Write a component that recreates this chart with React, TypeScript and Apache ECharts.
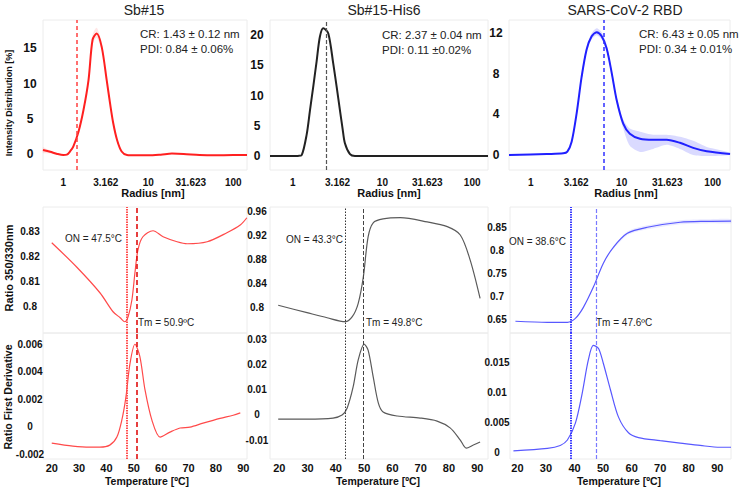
import { useEffect, useRef } from 'react';
import * as echarts from 'echarts';

const FONT = '"Liberation Sans", Arial, Helvetica, sans-serif';

// ---------- Titles / annotations ----------
const panelTitles = ['Sb#15', 'Sb#15-His6', 'SARS-CoV-2 RBD'];
const crTexts = ['CR: 1.43 ± 0.12 nm', 'CR: 2.37 ± 0.04 nm', 'CR: 6.43 ± 0.05 nm'];
const pdiTexts = ['PDI: 0.84 ± 0.06%', 'PDI: 0.11 ±0.02%', 'PDI: 0.34 ± 0.01%'];
const crValues = [1.43, 2.37, 6.43];
const onValues = [47.5, 43.3, 38.6];
const tmValues = [50.9, 49.8, 47.6];
const onTexts = ['ON = 47.5°C', 'ON = 43.3°C', 'ON = 38.6°C'];
const tmTexts = ['Tm = 50.9ºC', 'Tm = 49.8°C', 'Tm = 47.6ºC'];

// ---------- Tick labels ----------
const tempTicks = [20, 30, 40, 50, 60, 70, 80, 90];
const sb15DlsTicks = [0, 5, 10, 15];
const his6DlsTicks = [0, 5, 10, 15, 20];
const rbdDlsTicks = [0, 4, 8, 12];
const sb15RatioTicks = [0.8, 0.81, 0.82, 0.83];
const his6RatioTicks = [0.8, 0.84, 0.88, 0.92, 0.96];
const rbdRatioTicks = [0.65, 0.7, 0.75, 0.8, 0.85];
const sb15DerivTicks = [-0.002, 0, 0.002, 0.004, 0.006];
const his6DerivTicks = [-0.01, 0, 0.01, 0.02, 0.03];
const rbdDerivTicks = [0, 0.005, 0.01, 0.015];

// ---------- DLS (radius nm, intensity %) ----------
const sb15Radius = [0.577, 0.7, 0.85, 1.0, 1.1, 1.2, 1.31, 1.51, 1.73, 1.98, 2.21, 2.47, 2.83, 3.24, 3.55, 3.87, 4.3, 4.86, 5.62, 7, 10, 14, 19, 26, 40, 60, 100, 145];
const sb15Intensity = [0.6, 0.35, 0.05, -0.1, -0.05, 0.4, 1.1, 3.2, 6.3, 10.5, 16.2, 17.1, 15.2, 10.5, 7.2, 4.4, 2.0, 0.4, -0.1, -0.15, -0.15, -0.05, 0.1, 0.05, -0.1, -0.15, -0.1, -0.1];
const sb15BandRadius = [1.51, 1.73, 1.98, 2.21, 2.47, 2.83, 3.24, 3.55, 3.87];
const sb15BandLow = [2.9, 6.0, 10.1, 15.6, 16.5, 14.7, 10.1, 6.9, 4.2];
const sb15BandHigh = [3.5, 6.6, 10.9, 16.9, 17.9, 15.8, 10.9, 7.5, 4.6];
const sb15StartBandRadius = [0.577, 0.65, 0.75, 0.85];
const sb15StartBandLow = [0.2, 0.15, 0.05, -0.05];
const sb15StartBandHigh = [1.0, 0.7, 0.4, 0.15];

const his6Radius = [0.559, 1.0, 1.15, 1.26, 1.43, 1.56, 1.7, 1.85, 2.01, 2.19, 2.49, 2.83, 3.1, 3.36, 3.6, 3.82, 4.35, 4.94, 10, 30, 100, 150];
const his6Intensity = [0, 0, 0.02, 0.15, 3.5, 7.6, 11.6, 15.7, 19.7, 21.1, 20.3, 15.3, 11.3, 7.6, 4.5, 2.1, 0.3, 0, 0, 0, 0, 0];

const rbdRadius = [0.578, 1.5, 2.28, 2.53, 2.82, 3.2, 3.63, 4.12, 4.68, 5.31, 6.03, 6.84, 7.77, 8.82, 10.4, 12.3, 15.9, 22.2, 31.2, 43.7, 61.1, 86, 155];
const rbdIntensity = [0, 0.1, 0.16, 0.33, 1.3, 4.1, 7.7, 10.4, 11.7, 12.1, 11.7, 10.5, 8.1, 5.4, 3.1, 2.1, 1.6, 1.5, 1.5, 1.2, 0.7, 0.36, 0.1];
const rbdBandRadius = [3.63, 4.12, 4.68, 5.31, 6.03, 6.84, 7.77, 8.82, 10.4, 12.3, 15.9, 22.2, 31.2, 43.7, 61.1, 86, 155];
const rbdBandLow = [7.4, 10.1, 11.4, 11.8, 11.4, 10.2, 7.8, 5.1, 2.6, 0.9, 0.3, 0.6, 1.0, 0.6, 0.0, -0.1, 0.0];
const rbdBandHigh = [8.0, 10.7, 12.0, 12.5, 12.1, 10.9, 8.4, 5.7, 3.5, 2.6, 2.3, 2.0, 2.0, 1.8, 1.4, 0.8, 0.25];

// ---------- Ratio 350/330 (temperature °C, ratio) ----------
const sb15RatioT = [20, 29, 37.6, 42.4, 45, 46.7, 47.9, 49.3, 50.4, 51.5, 53.3, 57, 60.7, 65.8, 69.5, 76.8, 84, 89, 91.3];
const sb15Ratio = [0.8256, 0.816, 0.8056, 0.798, 0.7956, 0.794, 0.796, 0.8028, 0.8136, 0.8228, 0.828, 0.8304, 0.828, 0.826, 0.8252, 0.826, 0.8296, 0.8328, 0.8356];
const his6RatioT = [19.6, 29.8, 36.9, 43.3, 45.8, 47.9, 49.7, 51.4, 53.2, 56.7, 62.8, 72.3, 79.4, 84, 87.5, 91];
const his6Ratio = [0.8034, 0.791, 0.7825, 0.776, 0.7843, 0.8067, 0.8505, 0.918, 0.9415, 0.948, 0.95, 0.943, 0.935, 0.921, 0.879, 0.815];
const rbdRatioT = [19.3, 30.5, 37.5, 40.3, 43.1, 46.6, 50.1, 53.6, 58.5, 65.5, 77, 86.5, 94.8];
const rbdRatio = [0.6457, 0.6435, 0.6435, 0.652, 0.676, 0.72, 0.772, 0.8065, 0.837, 0.85, 0.861, 0.863, 0.8635];
const rbdRatioBandT = [53.6, 58.5, 65.5, 77, 86.5, 94.8];
const rbdRatioBandLow = [0.8035, 0.833, 0.8455, 0.8565, 0.8585, 0.859];
const rbdRatioBandHigh = [0.8095, 0.841, 0.8545, 0.8655, 0.8675, 0.868];

// ---------- First derivative ----------
const sb15DerivT = [20, 27.7, 33.9, 37.6, 41.2, 43.8, 45.6, 47.1, 48.6, 50.4, 52.2, 54.1, 56.6, 59.6, 63.2, 66.9, 70.5, 75.3, 81.5, 86.3, 88.9];
const sb15Deriv = [-0.0012, -0.00142, -0.0015, -0.0015, -0.00135, -0.00076, 0.00047, 0.00215, 0.0046, 0.006, 0.0051, 0.00265, 0.00047, -0.00076, -0.0004, -0.0001, -0.00004, 0.00025, 0.0006, 0.00083, 0.001];
const his6DerivT = [19.6, 29.8, 39, 42.2, 44, 46.1, 47.9, 50, 51.4, 53.2, 55, 56.7, 61.7, 69.8, 75.8, 80.4, 84, 86.1, 88.6, 91];
const his6Deriv = [-0.0017, -0.0017, -0.0013, -0.0001, 0.0027, 0.011, 0.0217, 0.028, 0.0256, 0.015, 0.0047, 0.0011, -0.0005, -0.0013, -0.0025, -0.0052, -0.01, -0.0132, -0.012, -0.0108];
const rbdDerivT = [18.6, 30.5, 35, 37.5, 40.3, 42.7, 44.8, 46.6, 48.4, 50.1, 52.6, 55.4, 58.9, 62.4, 70, 77, 84, 91, 94.8];
const rbdDeriv = [0.0003, 0.0007, 0.0012, 0.0021, 0.0049, 0.0099, 0.0153, 0.0178, 0.0173, 0.0148, 0.0104, 0.0059, 0.0033, 0.0025, 0.002, 0.0016, 0.0012, 0.0009, 0.0009];

// ---------- helpers ----------
const zip = (xs: number[], ys: number[]) => xs.map((x, i) => [x, ys[i]]);
const fmtNum = (v: number) => String(+Number(v).toFixed(4));
const fmtLog = (v: number) => {
  const r = Math.round(v * 1000) / 1000;
  return Number.isInteger(r) ? String(r) : r.toFixed(3);
};

const gridBoxes = [
  { left: 43, top: 20, width: 204, height: 150 },
  { left: 270, top: 20, width: 218, height: 150 },
  { left: 509, top: 20, width: 221, height: 150 },
  { left: 43, top: 207, width: 204, height: 126 },
  { left: 270, top: 207, width: 218, height: 126 },
  { left: 510, top: 207, width: 221, height: 126 },
  { left: 43, top: 333, width: 204, height: 126 },
  { left: 270, top: 333, width: 218, height: 126 },
  { left: 510, top: 333, width: 221, height: 126 },
];

const radiusRanges = [[0.577, 145], [0.559, 150], [0.578, 155]];
const tempRanges = [[16.8, 91.35], [16.7, 93.8], [17.4, 94.8]];
const dlsRanges = [[-2.22, 19.0], [-2.31, 22.48], [-1.48, 13.31]];
const ratioRanges = [[0.7895, 0.8399], [0.757, 0.9679], [0.6202, 0.8941]];
const derivRanges = [[-0.00236, 0.00682], [-0.01752, 0.03238], [-0.00105, 0.01986]];

const mainColors = ['#ff2020', '#222222', '#2020ff'];
const thinColors = ['#ff4a4a', '#5a5a5a', '#5858ff'];
const onLineStyles = [
  { color: '#ff5050', width: 2, type: [1.5, 1] },
  { color: '#333333', width: 1, type: [1.5, 1.5] },
  { color: '#3a3aff', width: 2, type: [1.5, 1] },
];
const tmLineStyles = [
  { color: '#e01010', width: 1.6, type: [5, 3] },
  { color: '#444444', width: 1, type: [4, 2] },
  { color: '#7a7aff', width: 1.2, type: [4, 2] },
];

function bandSeries(idx: number, xs: number[], lo: number[], hi: number[], color: string) {
  return {
    type: 'custom', xAxisIndex: idx, yAxisIndex: idx, silent: true, z: 1,
    data: xs.map((x, i) => [x, lo[i], hi[i]]),
    encode: { x: 0, y: [1, 2] },
    renderItem: (params: any, api: any) => {
      if (params.dataIndex !== 0) return null;
      const upper = xs.map((x, i) => api.coord([x, hi[i]]));
      const lower = xs.map((x, i) => api.coord([x, lo[i]])).reverse();
      return {
        type: 'polygon',
        shape: { points: upper.concat(lower), smooth: 0.25 },
        style: { fill: color },
      };
    },
  };
}

function buildOption() {
  const grid = gridBoxes.map((g) => ({
    ...g,
    show: true,
    borderColor: '#ececec',
    borderWidth: 1,
    backgroundColor: 'transparent',
    containLabel: false,
    outerBoundsMode: 'none',
  }));

  const yLabelBase = { fontFamily: FONT, fontWeight: 'bold', color: '#111', align: 'center', margin: 13, formatter: fmtNum };
  const hiddenAxisParts = { axisLine: { show: false }, axisTick: { show: false }, splitLine: { show: false } };

  const xAxis: any[] = [];
  const yAxis: any[] = [];
  const dlsTicks = [sb15DlsTicks, his6DlsTicks, rbdDlsTicks];
  const ratioTicks = [sb15RatioTicks, his6RatioTicks, rbdRatioTicks];
  const derivTicks = [sb15DerivTicks, his6DerivTicks, rbdDerivTicks];

  for (let c = 0; c < 3; c++) {
    xAxis.push({
      type: 'log', logBase: Math.sqrt(10), gridIndex: c,
      min: radiusRanges[c][0], max: radiusRanges[c][1],
      ...hiddenAxisParts,
      axisLabel: { showMinLabel: false, showMaxLabel: false, formatter: fmtLog, fontFamily: FONT, fontWeight: 'bold', fontSize: 10, color: '#111', margin: 7 },
    });
    yAxis.push({
      type: 'value', gridIndex: c, min: dlsRanges[c][0], max: dlsRanges[c][1],
      ...hiddenAxisParts,
      axisLabel: { ...yLabelBase, fontSize: 12, customValues: dlsTicks[c] },
    });
  }
  for (let c = 0; c < 3; c++) {
    xAxis.push({ type: 'value', gridIndex: 3 + c, min: tempRanges[c][0], max: tempRanges[c][1], show: false, ...hiddenAxisParts });
    yAxis.push({
      type: 'value', gridIndex: 3 + c, min: ratioRanges[c][0], max: ratioRanges[c][1],
      ...hiddenAxisParts,
      axisLabel: { ...yLabelBase, fontSize: 10, customValues: ratioTicks[c] },
    });
  }
  for (let c = 0; c < 3; c++) {
    xAxis.push({
      type: 'value', gridIndex: 6 + c, min: tempRanges[c][0], max: tempRanges[c][1],
      ...hiddenAxisParts,
      axisLabel: { customValues: tempTicks, fontFamily: FONT, fontWeight: 'bold', fontSize: 11, color: '#111', margin: 3 },
    });
    yAxis.push({
      type: 'value', gridIndex: 6 + c, min: derivRanges[c][0], max: derivRanges[c][1],
      ...hiddenAxisParts,
      axisLabel: { ...yLabelBase, fontSize: 10, customValues: derivTicks[c] },
    });
  }

  const series: any[] = [
    bandSeries(0, sb15BandRadius, sb15BandLow, sb15BandHigh, 'rgba(255,60,60,0.13)'),
    bandSeries(0, sb15StartBandRadius, sb15StartBandLow, sb15StartBandHigh, 'rgba(255,60,60,0.13)'),
    bandSeries(2, rbdBandRadius, rbdBandLow, rbdBandHigh, 'rgba(70,70,255,0.2)'),
    bandSeries(5, rbdRatioBandT, rbdRatioBandLow, rbdRatioBandHigh, 'rgba(90,90,255,0.13)'),
  ];

  const dlsData = [zip(sb15Radius, sb15Intensity), zip(his6Radius, his6Intensity), zip(rbdRadius, rbdIntensity)];
  const ratioData = [zip(sb15RatioT, sb15Ratio), zip(his6RatioT, his6Ratio), zip(rbdRatioT, rbdRatio)];
  const derivData = [zip(sb15DerivT, sb15Deriv), zip(his6DerivT, his6Deriv), zip(rbdDerivT, rbdDeriv)];
  const topDash = [
    { color: '#ff4040', width: 1.5, type: [4, 3] },
    { color: '#555555', width: 1.2, type: [4, 2] },
    { color: '#3030ff', width: 1.5, type: [4, 3] },
  ];

  for (let c = 0; c < 3; c++) {
    series.push({
      type: 'line', xAxisIndex: c, yAxisIndex: c, data: dlsData[c], symbol: 'none', smooth: 0.3, z: 3,
      lineStyle: { color: mainColors[c], width: 2 },
      markLine: {
        silent: true, symbol: ['none', 'none'], label: { show: false },
        data: [{ xAxis: crValues[c], lineStyle: topDash[c] }],
      },
    });
    const ml = {
      silent: true, symbol: ['none', 'none'], label: { show: false },
      data: [
        { xAxis: onValues[c], lineStyle: onLineStyles[c] },
        { xAxis: tmValues[c], lineStyle: tmLineStyles[c] },
      ],
    };
    series.push({
      type: 'line', xAxisIndex: 3 + c, yAxisIndex: 3 + c, data: ratioData[c], symbol: 'none', smooth: 0.3, z: 3,
      lineStyle: { color: thinColors[c], width: 1.2 }, markLine: ml,
    });
    series.push({
      type: 'line', xAxisIndex: 6 + c, yAxisIndex: 6 + c, data: derivData[c], symbol: 'none', smooth: 0.3, z: 3,
      lineStyle: { color: thinColors[c], width: 1.2 }, markLine: ml,
    });
  }

  const txt = (x: number, y: number, text: string, font: string, align = 'center', rotation = 0, fill = '#111') => ({
    type: 'text', x, y, rotation, silent: true,
    style: { text, font, fill, textAlign: align, textVerticalAlign: 'middle' },
  });

  const titleX = [144, 384, 625];
  const crX = [140, 382, 639];
  const crY = [34, 35, 34];
  const radiusNameX = [153, 389, 626];
  const tempNameX = [147, 378, 619];
  const onRightX = [122, 343, 566];
  const onY = [238, 239, 241];
  const tmLeftX = [138, 366, 596];

  const graphic: any[] = [];
  for (let c = 0; c < 3; c++) {
    graphic.push(txt(titleX[c], 10, panelTitles[c], `14px ${FONT}`, 'center', 0, '#222'));
    graphic.push(txt(crX[c], crY[c], crTexts[c], `11.5px ${FONT}`, 'left', 0, '#222'));
    graphic.push(txt(crX[c], crY[c] + 15, pdiTexts[c], `11.5px ${FONT}`, 'left', 0, '#222'));
    graphic.push(txt(radiusNameX[c], 193, 'Radius [nm]', `bold 11px ${FONT}`));
    graphic.push(txt(tempNameX[c], 481, 'Temperature [ºC]', `bold 10.5px ${FONT}`));
    graphic.push(txt(onRightX[c], onY[c], onTexts[c], `10px ${FONT}`, 'right', 0, '#222'));
    graphic.push(txt(tmLeftX[c], 322, tmTexts[c], `10px ${FONT}`, 'left', 0, '#222'));
  }
  graphic.push(txt(9, 103, 'Intensity Distribution [%]', `bold 9px ${FONT}`, 'center', Math.PI / 2));
  graphic.push(txt(9, 268, 'Ratio 350/330nm', `bold 11px ${FONT}`, 'center', Math.PI / 2));
  graphic.push(txt(8, 397, 'Ratio First Derivative', `bold 10.5px ${FONT}`, 'center', Math.PI / 2));

  return {
    animation: false,
    backgroundColor: '#ffffff',
    textStyle: { fontFamily: FONT },
    grid, xAxis, yAxis, series, graphic,
  };
}

export default function App() {
  const ref = useRef<HTMLDivElement>(null);
  useEffect(() => {
    if (!ref.current) return;
    const chart = echarts.init(ref.current, null, { renderer: 'svg' });
    chart.setOption(buildOption() as any);
    return () => chart.dispose();
  }, []);
  return <div ref={ref} style={{ position: 'absolute', left: 0, top: 0, width: 740, height: 488 }} />;
}
